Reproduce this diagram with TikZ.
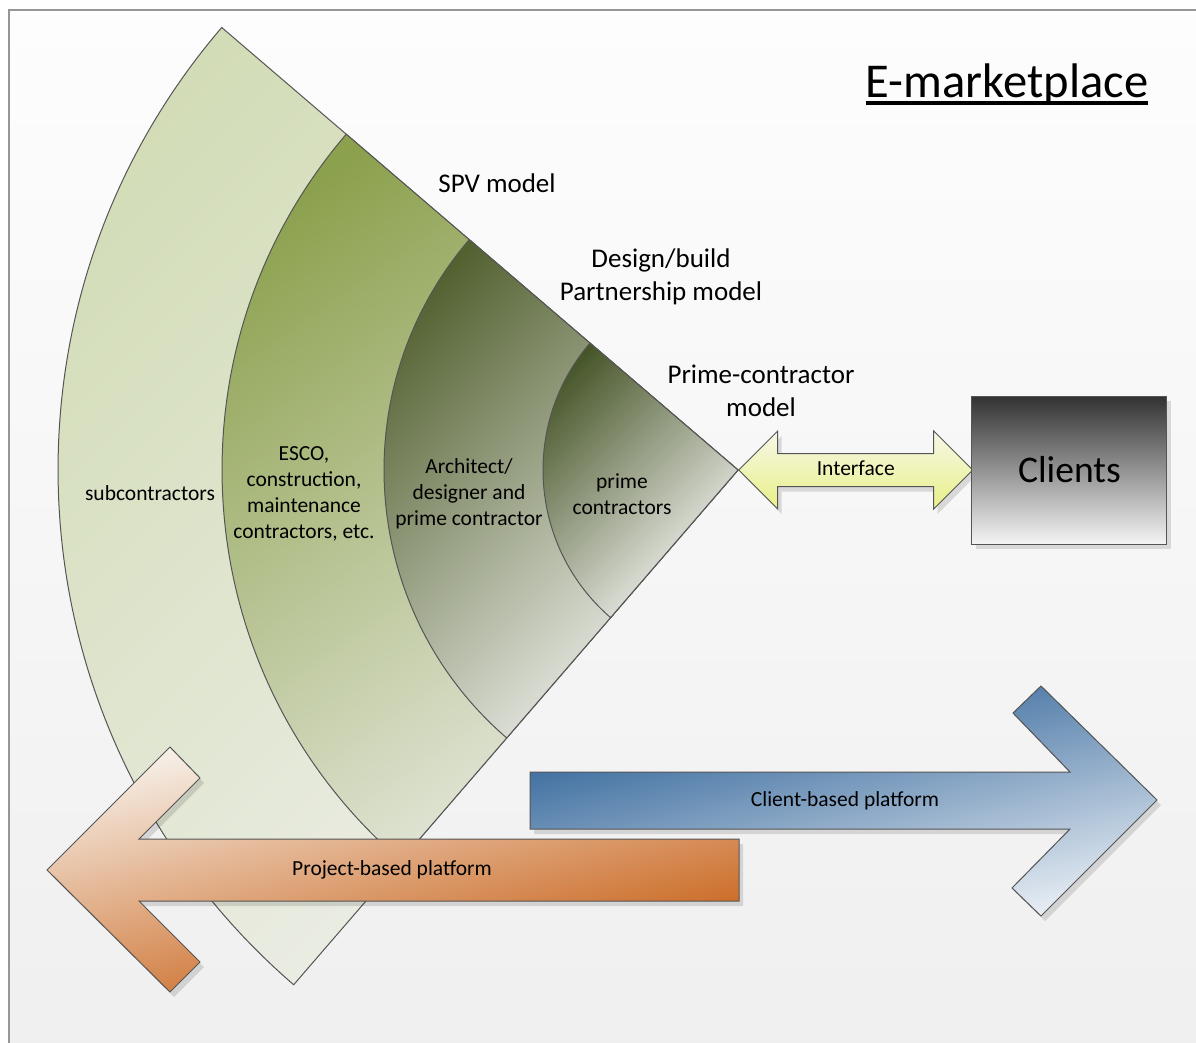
\documentclass[tikz,border=0pt]{standalone}
\usepackage{fontspec}
\setmainfont{Carlito}
\usetikzlibrary{positioning,shapes.arrows,shadows}
\definecolor{bgtop}{RGB}{253,253,253}
\definecolor{bgbot}{RGB}{239,239,239}
\definecolor{frame}{RGB}{150,150,150}
\definecolor{edge}{RGB}{85,85,85}
\definecolor{subA}{RGB}{210,220,182}
\definecolor{subB}{RGB}{238,239,234}
\definecolor{escA}{RGB}{140,161,78}
\definecolor{escB}{RGB}{232,234,225}
\definecolor{arcA}{RGB}{82,97,48}
\definecolor{arcB}{RGB}{244,244,242}
\definecolor{prmA}{RGB}{70,85,40}
\definecolor{prmB}{RGB}{246,246,244}
\definecolor{ifA}{RGB}{247,247,232}
\definecolor{ifB}{RGB}{232,240,135}
\definecolor{clA}{RGB}{50,50,50}
\definecolor{clB}{RGB}{244,244,244}
\definecolor{blA}{RGB}{32,88,145}
\definecolor{blB}{RGB}{230,236,243}
\definecolor{orA}{RGB}{246,238,230}
\definecolor{orB}{RGB}{196,84,4}
\tikzstyle{sect}=[draw=edge, line width=1pt]
\tikzstyle{lblbox}=[align=center, inner sep=0pt, font=\fontsize{21.5}{26}\selectfont]
\tikzstyle{mdlbox}=[align=center, inner sep=0pt, font=\fontsize{27}{32.5}\selectfont]
\tikzstyle{shd}=[drop shadow={shadow xshift=4pt, shadow yshift=-5pt, fill=black, opacity=.12}]
\tikzstyle{ifarrow}=[double arrow, double arrow head extend=22.5pt, double arrow tip angle=90, minimum height=234pt, text height=15pt, text depth=5pt, inner ysep=6pt, inner xsep=0pt, draw=edge, line width=1pt, top color=ifA, bottom color=ifB, shd, font=\fontsize{21.5}{26}\selectfont]
\tikzstyle{clbox}=[rectangle, minimum width=195pt, minimum height=148pt, draw=edge, line width=1pt, top color=clA, bottom color=clB, shd, font=\fontsize{37.6}{45}\selectfont]
\tikzstyle{barrow}=[draw=edge, line width=1pt, top color=blA, bottom color=blB, shading angle=13, shd]
\tikzstyle{oarrow}=[draw=edge, line width=1pt, top color=orA, bottom color=orB, shading angle=13, shd]
\begin{document}
\begin{tikzpicture}[x=1pt, y=1pt]
\useasboundingbox (0,0) rectangle (1196,-1043);
\shade[top color=bgtop, bottom color=bgbot] (9,-10) rectangle (1230,-1080);
\draw[frame, line width=2pt] (9,-10) rectangle (1230,-1080);
% the fan
\coordinate (apex) at (738,-470);
\draw[sect, top color=subA, bottom color=subB, shading angle=45] (apex) -- ++(139.4:680) arc[start angle=139.4, end angle=229.2, radius=680] -- cycle;
\draw[sect, top color=escA, bottom color=escB, shading angle=35] (apex) -- ++(139.4:516) arc[start angle=139.4, end angle=229.2, radius=516] -- cycle;
\draw[sect, top color=arcA, bottom color=arcB, shading angle=45] (apex) -- ++(139.4:354) arc[start angle=139.4, end angle=229.2, radius=354] -- cycle;
\draw[sect, top color=prmA, bottom color=prmB, shading angle=45] (apex) -- ++(139.4:195) arc[start angle=139.4, end angle=229.2, radius=195] -- cycle;
\node (SUB) [lblbox] at (150,-493) {subcontractors};
\node (ESCO) [lblbox] at (304,-494) {ESCO,\\construction,\\maintenance\\contractors, etc.};
\node (ARCH) [lblbox] at (469,-494) {Architect/\\designer and\\prime contractor};
\node (PRIME) [lblbox] at (622,-494) {prime\\contractors};
\node (SPV) [mdlbox] at (497,-183) {SPV model};
\node (DBP) [mdlbox] at (661,-277) {Design/build\\Partnership model};
\node (PCM) [mdlbox] at (761,-391) {Prime-contractor\\model};
% interface and clients
\node (IF) [ifarrow, right=0pt of apex] {Interface};
\node (CL) [clbox, right=-2pt of IF] {Clients};
% platforms
\draw[barrow] (530,-772) -- (1070,-772) -- (1013,-713) -- (1041,-686) -- (1157,-800) -- (1041,-916) -- (1012,-888) -- (1070,-829) -- (530,-829) -- cycle;
\node (CBP) [lblbox] at (845,-801) {Client-based platform};
\draw[oarrow] (47,-870) -- (170,-747) -- (200,-778) -- (139,-839) -- (739,-839) -- (739,-901) -- (139,-901) -- (200,-962) -- (170,-992) -- cycle;
\node (PBP) [lblbox] at (392,-870) {Project-based platform};
% title
\node (TITLE) [inner sep=0pt, font=\fontsize{48.6}{58}\selectfont, anchor=base] at (1007,-98) {E-marketplace};
\draw[line width=4pt] ([yshift=-5pt]TITLE.base west) -- ([yshift=-5pt]TITLE.base east);
\end{tikzpicture}
\end{document}
